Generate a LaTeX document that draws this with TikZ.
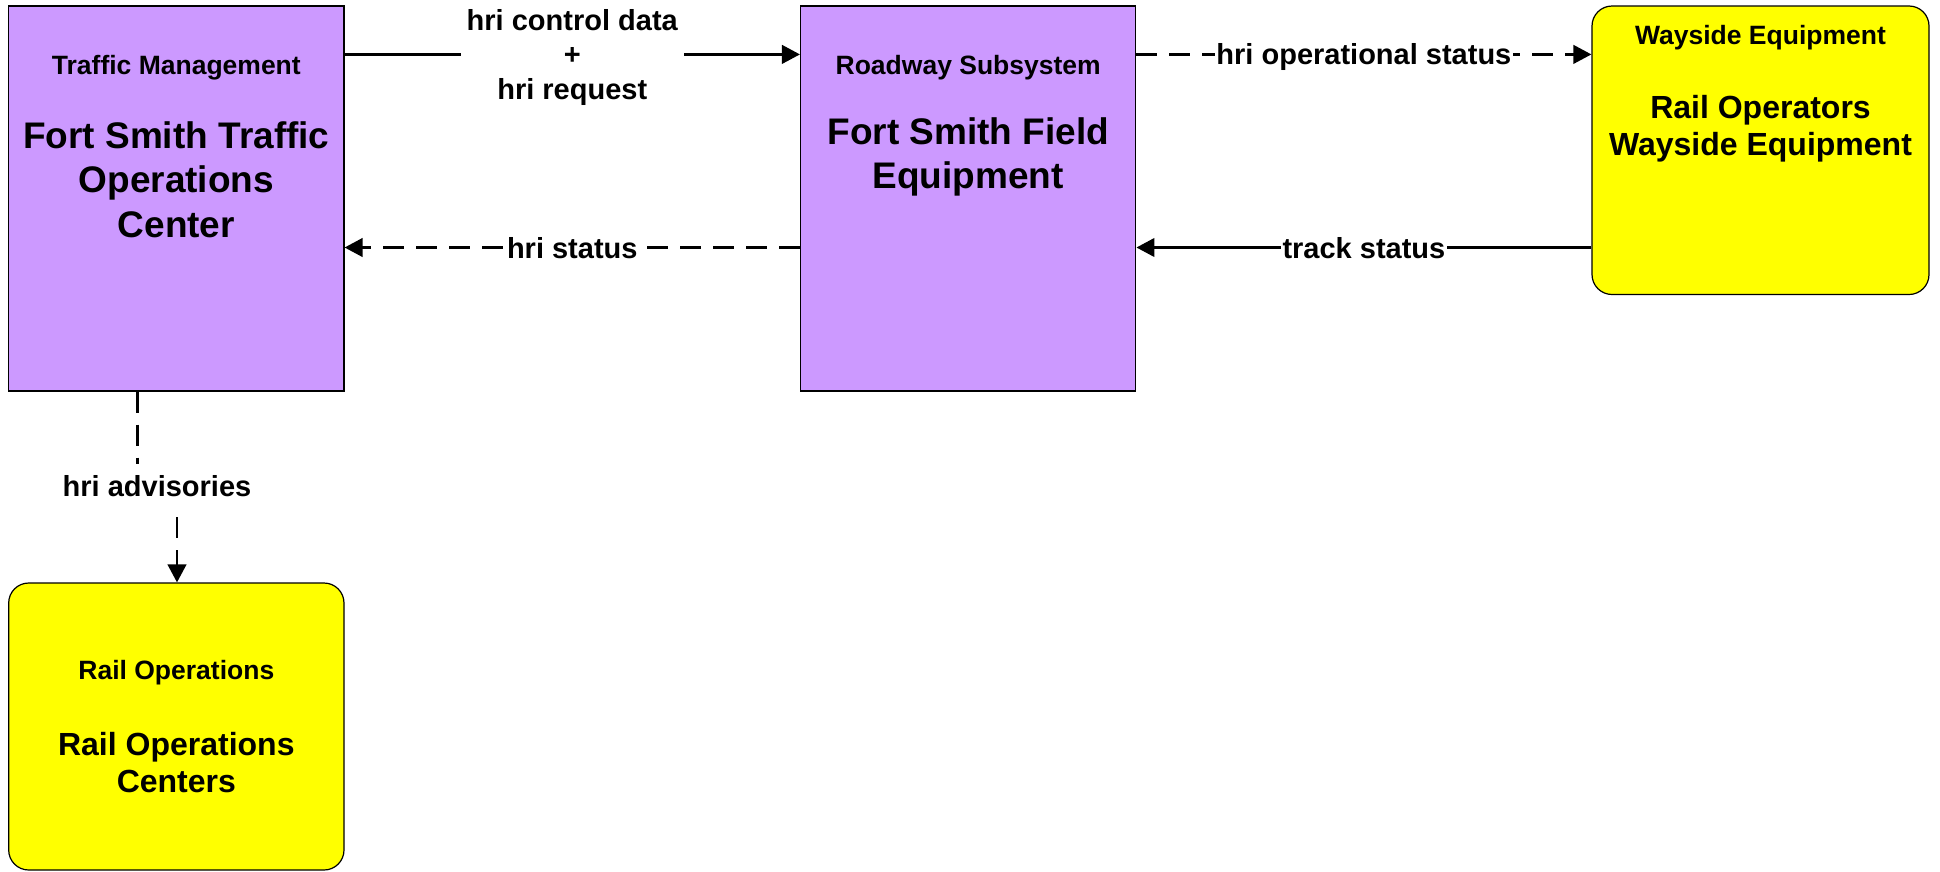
\documentclass[tikz,border=0pt]{standalone}
\usepackage{fontspec}
\setmainfont{Liberation Sans}
\usetikzlibrary{arrows.meta}
\definecolor{subpurple}{RGB}{204,153,255}
\definecolor{extyellow}{RGB}{255,255,0}
\begin{document}
\begin{tikzpicture}[x=1pt,y=-1pt,
  subbox/.style={draw=black, line width=1.2pt, fill=subpurple, inner sep=0pt, minimum width=335.3pt},
  extbox/.style={draw=black, line width=1.2pt, fill=extyellow, rounded corners=20pt, inner sep=0pt},
  smalltxt/.style={font=\bfseries\fontsize{26.5}{32}\selectfont, align=center, inner sep=0pt},
  bigtxt/.style={font=\bfseries\fontsize{37}{44.5}\selectfont, align=center, inner sep=0pt},
  bigtxtb/.style={font=\bfseries\fontsize{32}{37.4}\selectfont, align=center, inner sep=0pt},
  flowlbl/.style={font=\bfseries\fontsize{29}{34.5}\selectfont, fill=white, inner sep=1.5pt, text height=21pt, text depth=0pt},
  flowlblm/.style={font=\bfseries\fontsize{29}{34.5}\selectfont, fill=white, inner sep=1.5pt, align=center},
  flow/.style={line width=2.6pt, -{Triangle[length=18pt,width=18.5pt]}},
  dflow/.style={flow, dash pattern=on 21pt off 12pt}]
\useasboundingbox (0,0) rectangle (1940,871);
% boxes
\node[subbox, minimum height=385pt] (tm) at (176.35,198.5) {};
\node[subbox, minimum height=385pt] (rw) at (968.2,198.5) {};
\node[extbox, minimum width=337pt, minimum height=288.5pt] (ws) at (1760.5,150.25) {};
\node[extbox, minimum width=335.3pt, minimum height=287pt] (ro) at (176.35,726.5) {};
% texts
\node[smalltxt] (tmt) at (176.35,68) {Traffic Management};
\node[bigtxt] (tmn) at (176.35,179.5) {Fort Smith Traffic\\Operations\\Center};
\node[smalltxt] (rwt) at (968.2,68) {Roadway Subsystem};
\node[bigtxt] (rwn) at (968.2,157) {Fort Smith Field\\Equipment};
\node[smalltxt] (wst) at (1760.5,37.2) {Wayside Equipment};
\node[bigtxtb] (wsn) at (1760.5,129) {Rail Operators\\Wayside Equipment};
\node[smalltxt] (rot) at (176.35,672.5) {Rail Operations};
\node[bigtxtb] (ron) at (176.35,762.4) {Rail Operations\\Centers};
% connector levels
\coordinate (ytop) at (0,54.4);
\coordinate (ybot) at (0,247.5);
\coordinate (xa) at (137.6,0);
\coordinate (xb) at (177,0);
\coordinate (adv) at (157,486);
% connectors
\draw[flow] (tm.east |- ytop) -- node[flowlblm, inner xsep=6pt, yshift=-3pt]{hri control data\\+\\hri request} (rw.west |- ytop);
\draw[dflow] (rw.west |- ybot) -- node[flowlbl]{hri status} (tm.east |- ybot);
\draw[dflow] (rw.east |- ytop) -- node[flowlbl]{hri operational status} (ws.west |- ytop);
\draw[flow] (ws.west |- ybot) -- node[flowlbl]{track status} (rw.east |- ybot);
\draw[dflow] (tm.south -| xa) -- (xa |- adv) -- (xb |- adv) -- (ro.north -| xb);
\node[flowlbl, inner ysep=12pt] (advl) at (adv) {hri advisories};
\end{tikzpicture}
\end{document}
